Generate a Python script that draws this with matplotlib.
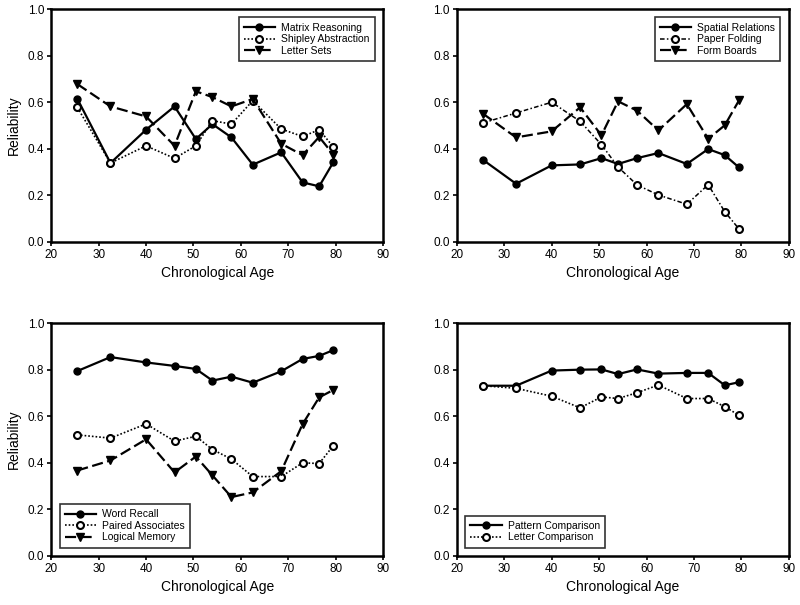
import matplotlib
matplotlib.use('Agg')
from matplotlib import pyplot as plt

plt.rcParams['font.family'] = ['Liberation Sans', 'DejaVu Sans']

ages = [25.5, 32.5, 40, 46, 50.5, 54, 58, 62.5, 68.5, 73, 76.5, 79.5]

# panel 1 - reasoning
matrix_reasoning = [0.615, 0.339, 0.482, 0.582, 0.442, 0.506, 0.449, 0.332, 0.385, 0.256, 0.239, 0.343]
shipley_abstraction = [0.578, 0.339, 0.413, 0.359, 0.413, 0.521, 0.506, 0.607, 0.485, 0.453, 0.482, 0.408]
letter_sets = [0.678, 0.582, 0.539, 0.413, 0.647, 0.622, 0.582, 0.614, 0.422, 0.373, 0.451, 0.375]

# panel 2 - spatial
spatial_relations = [0.353, 0.250, 0.329, 0.333, 0.360, 0.335, 0.360, 0.382, 0.335, 0.399, 0.373, 0.320]
paper_folding = [0.511, 0.554, 0.600, 0.518, 0.418, 0.322, 0.245, 0.202, 0.162, 0.246, 0.130, 0.056]
form_boards = [0.551, 0.449, 0.475, 0.578, 0.458, 0.604, 0.564, 0.479, 0.592, 0.443, 0.501, 0.608]

# panel 3 - memory
word_recall = [0.794, 0.854, 0.831, 0.816, 0.803, 0.753, 0.770, 0.744, 0.793, 0.846, 0.859, 0.884]
paired_associates = [0.520, 0.506, 0.567, 0.493, 0.514, 0.457, 0.416, 0.341, 0.341, 0.400, 0.397, 0.474]
logical_memory = [0.367, 0.410, 0.501, 0.359, 0.427, 0.346, 0.253, 0.273, 0.364, 0.566, 0.681, 0.713]

# panel 4 - speed
pattern_comparison = [0.731, 0.731, 0.796, 0.800, 0.801, 0.781, 0.801, 0.783, 0.786, 0.786, 0.733, 0.746]
letter_comparison = [0.731, 0.720, 0.686, 0.636, 0.683, 0.676, 0.701, 0.734, 0.676, 0.676, 0.641, 0.604]

fig = plt.figure(figsize=(8, 6.05), dpi=100)
ax1 = fig.add_axes([0.064, 0.600, 0.415, 0.385])
ax2 = fig.add_axes([0.571, 0.600, 0.415, 0.385])
ax3 = fig.add_axes([0.064, 0.081, 0.415, 0.385])
ax4 = fig.add_axes([0.571, 0.081, 0.415, 0.385])

solid = dict(color='black', linestyle='-', lw=1.6, marker='o', ms=5, mfc='black', mec='black')
dotted = dict(color='black', linestyle=(0, (1, 1.2)), lw=1.2, marker='o', ms=5, mfc='white', mec='black', mew=1.5)
dashdot = dict(color='black', linestyle=(0, (3, 1.5, 1, 1.5)), lw=1.1, marker='o', ms=5, mfc='white', mec='black', mew=1.5)
dashed = dict(color='black', linestyle=(0, (5, 2)), lw=1.6, marker='v', ms=6, mfc='black', mec='black')

ax1.plot(ages, matrix_reasoning, label='Matrix Reasoning', **solid)
ax1.plot(ages, shipley_abstraction, label='Shipley Abstraction', **dotted)
ax1.plot(ages, letter_sets, label='Letter Sets', **dashed)

ax2.plot(ages, spatial_relations, label='Spatial Relations', **solid)
ax2.plot(ages, paper_folding, label='Paper Folding', **dashdot)
ax2.plot(ages, form_boards, label='Form Boards', **dashed)

ax3.plot(ages, word_recall, label='Word Recall', **solid)
ax3.plot(ages, paired_associates, label='Paired Associates', **dotted)
ax3.plot(ages, logical_memory, label='Logical Memory', **dashed)

ax4.plot(ages, pattern_comparison, label='Pattern Comparison', **solid)
ax4.plot(ages, letter_comparison, label='Letter Comparison', **dotted)

for ax, loc in [(ax1, 'upper right'), (ax2, 'upper right'), (ax3, 'lower left'), (ax4, 'lower left')]:
    ax.set_xlim(20, 90)
    ax.set_ylim(0, 1.0)
    ax.set_xticks([20, 30, 40, 50, 60, 70, 80, 90])
    ax.set_yticks([0, 0.2, 0.4, 0.6, 0.8, 1.0])
    ax.set_yticklabels(['0.0', '0.2', '0.4', '0.6', '0.8', '1.0'])
    ax.tick_params(direction='out', length=3, width=1.2, labelsize=8.5, pad=2)
    for s in ax.spines.values():
        s.set_linewidth(1.8)
    ax.set_xlabel('Chronological Age', fontsize=10, labelpad=4)
    if ax in (ax1, ax3):
        ax.set_ylabel('Reliability', fontsize=10, labelpad=5)
    leg = ax.legend(loc=loc, fontsize=7.5, frameon=True, fancybox=False,
                    edgecolor='black', handlelength=3.0, labelspacing=0.15,
                    borderpad=0.5, handletextpad=0.6, borderaxespad=0.8)
    leg.get_frame().set_linewidth(1.2)

plt.savefig('out.png', dpi=100)
plt.close()
